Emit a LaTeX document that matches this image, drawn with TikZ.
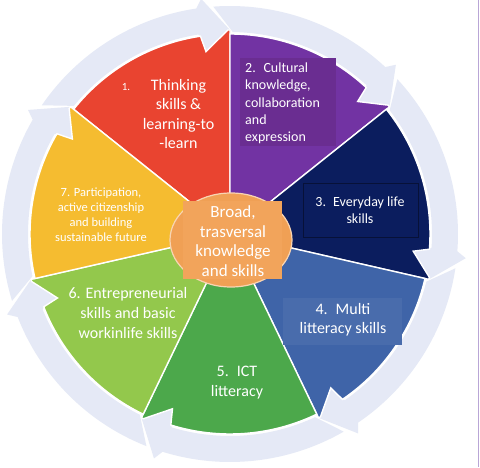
\documentclass[tikz,border=0pt]{standalone}
\usepackage{fontspec}
\setmainfont{Carlito}
\definecolor{cred}{HTML}{E94430}
\definecolor{cpurple}{HTML}{7233A3}
\definecolor{cpurplebox}{HTML}{6A2D91}
\definecolor{cnavy}{HTML}{0B1D5E}
\definecolor{cblue}{HTML}{3F64A8}
\definecolor{cgreen}{HTML}{4CA84B}
\definecolor{clgreen}{HTML}{93C84C}
\definecolor{cyellow}{HTML}{F5BC30}
\definecolor{corange}{HTML}{F0A055}
\definecolor{corangebox}{HTML}{F2A45B}
\definecolor{cring}{HTML}{E5E9F6}
\definecolor{cedge}{HTML}{B9A6D6}
\begin{document}
\begin{tikzpicture}[x=1pt,y=1pt,
  lbl/.style={text=white, align=center, inner sep=0pt},
  big/.style={font=\fontsize{16}{19.5}\selectfont},
  mid/.style={font=\fontsize{14}{17.3}\selectfont},
  small/.style={font=\fontsize{12.5}{15}\selectfont}]
\useasboundingbox (0,0) rectangle (480,467);
\fill[white] (0,0) rectangle (480,467);
\draw[cedge, line width=1pt] (478.5,0) -- (478.5,467);
\begin{scope}[shift={(230,233)}]
  % ring arrows
  \foreach \k in {0,...,6}{
    \pgfmathsetmacro\b{90-\k*360/7}
    \pgfmathsetmacro\t{\b+360/7}
    \fill[cring] (\t-0.8:202) -- (\t+4.2:228)
      arc[start angle=\t+4.2, end angle=\b+8.5, radius=228]
      -- (\b+7:237) -- (\b:204) -- (\b+7.5:184) -- (\b+8.5:200) -- (\b+9:202)
      arc[start angle=\b+9, end angle=\t-0.8, radius=202] -- cycle;
  }
  % sectors
  \foreach \k/\col in {0/cred,1/cpurple,2/cnavy,3/cblue,4/cgreen,5/clgreen,6/cyellow}{
    \pgfmathsetmacro\b{90-\k*360/7}
    \pgfmathsetmacro\t{\b+360/7}
    \filldraw[fill=\col, draw=white, line width=1.4pt, line join=miter]
      (0,0) -- (\t:200) arc[start angle=\t, end angle=\b+8.5, radius=200]
      -- (\b+7.5:184) -- (\b+0.6:204) -- (\b:204) -- cycle;
  }
\end{scope}
% text boxes
\fill[cpurplebox] (240,409) rectangle (336,321);
\draw[cnavy!60!black, line width=0.6pt] (303,284) rectangle (418,230);
\fill[cblue!95!white] (283,169) rectangle (402,122);
% center
\filldraw[fill=corange, draw=white!55!corange, line width=1.2pt] (231,227) ellipse[x radius=61, y radius=47];
\fill[corangebox] (183,266) rectangle (282,188);
% labels
\node[lbl, font=\fontsize{11}{13}\selectfont] (n1num) at (126,380) {1.};
\node[lbl, big] (n1) at (178.5,353) {Thinking\\skills \&\\learning-to\\-learn};
\node[lbl, mid, align=left, anchor=west] (n2) at (245,363.5) {2.\hspace{0.55em}Cultural\\knowledge,\\collaboration\\and\\expression};
\node[lbl, mid] (n3) at (360,256.5) {3.\hspace{0.5em}Everyday life\\skills};
\node[lbl, big] (n4) at (343,147.5) {4.\hspace{0.5em}Multi\\litteracy skills};
\node[lbl, big] (n5) at (237,84.5) {5.\hspace{0.5em}ICT\\litteracy};
\node[lbl, big, font=\fontsize{16}{20}\selectfont] (n6) at (128,154) {6. Entrepreneurial\\skills and basic\\workinlife skills};
\node[lbl, small] (n7) at (101,252.5) {7. Participation,\\active citizenship\\and building\\sustainable future};
\node[lbl, font=\fontsize{17}{19.5}\selectfont] (n8) at (233,226) {Broad,\\trasversal\\knowledge\\and skills};
\end{tikzpicture}
\end{document}
